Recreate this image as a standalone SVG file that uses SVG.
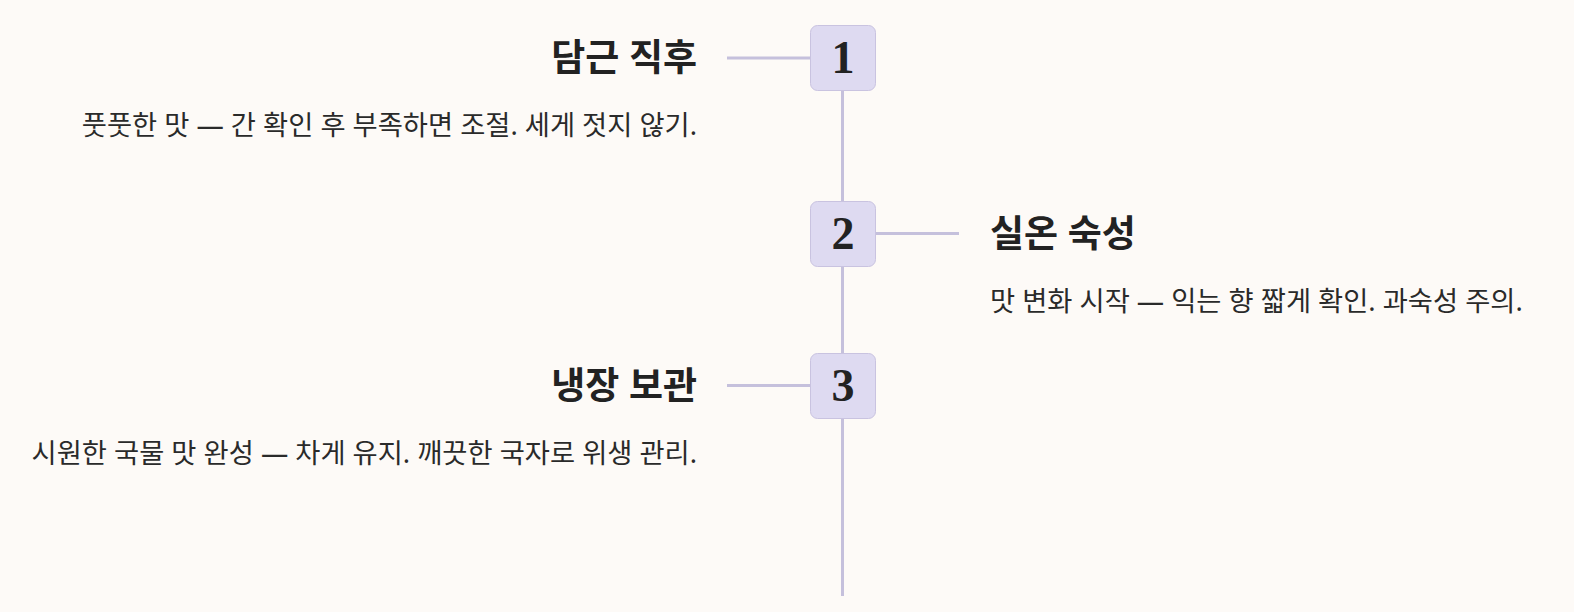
<svg xmlns="http://www.w3.org/2000/svg" width="1574" height="612" viewBox="0 0 1574 612">
<style>
.bg{fill:#fdfaf7}
.ln{stroke:#c5c0dc;stroke-width:3;fill:none}
.box{fill:#dedaf1;stroke:#c9c3e0;stroke-width:1}
.num{font-family:"Liberation Serif","DejaVu Serif",serif;font-weight:700;font-size:46px;fill:#222;text-anchor:middle}
.hd{font-family:"Noto Sans","Noto Sans CJK KR",sans-serif;font-weight:700;font-size:37px;fill:#222}
.ds{font-family:"Noto Sans","Noto Sans CJK KR",sans-serif;font-size:27.3px;fill:#2a2a2a}
.r{text-anchor:end}
</style>
<rect class="bg" x="0" y="0" width="1574" height="612"/>
<g id="connectors">
<line class="ln" x1="842.5" y1="57" x2="842.5" y2="596"/>
<line class="ln" x1="727" y1="58" x2="810" y2="58"/>
<line class="ln" x1="876" y1="233.5" x2="959" y2="233.5"/>
<line class="ln" x1="727" y1="385.5" x2="810" y2="385.5"/>
</g>
<g id="node1">
<rect class="box" x="810.5" y="25.5" width="65" height="65" rx="7"/>
<text class="num" x="843" y="73">1</text>
<text class="hd r" x="697" y="71">담근 직후</text>
<text class="ds r" x="697" y="135">풋풋한 맛 — 간 확인 후 부족하면 조절. 세게 젓지 않기.</text>
</g>
<g id="node2">
<rect class="box" x="810.5" y="201.5" width="65" height="65" rx="7"/>
<text class="num" x="843" y="249">2</text>
<text class="hd" x="990" y="247">실온 숙성</text>
<text class="ds" x="990" y="311">맛 변화 시작 — 익는 향 짧게 확인. 과숙성 주의.</text>
</g>
<g id="node3">
<rect class="box" x="810.5" y="353.5" width="65" height="65" rx="7"/>
<text class="num" x="843" y="401">3</text>
<text class="hd r" x="697" y="399">냉장 보관</text>
<text class="ds r" x="697" y="463">시원한 국물 맛 완성 — 차게 유지. 깨끗한 국자로 위생 관리.</text>
</g>
</svg>
